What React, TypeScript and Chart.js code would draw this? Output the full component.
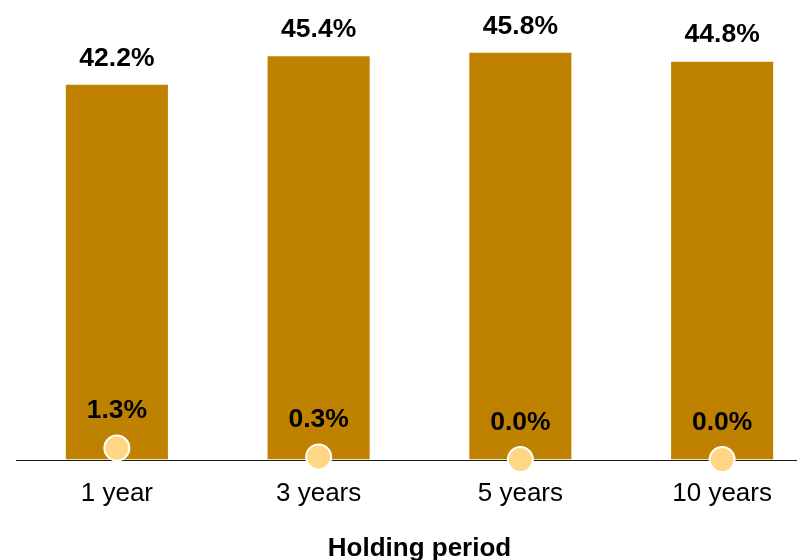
import React, { useEffect, useRef } from "react";
import { Chart, registerables } from "chart.js";

Chart.register(...registerables);

const categories = ["1 year", "3 years", "5 years", "10 years"];
const barValues = [42.2, 45.4, 45.8, 44.8];
const pointValues = [1.3, 0.3, 0.0, 0.0];
const axisTitle = "Holding period";

const BAR_COLOR = "#BF8200";
const POINT_COLOR = "#FFD684";
const FONT = "'Liberation Sans', Arial, sans-serif";

const labelPlugin = {
  id: "valueLabels",
  beforeDatasetDraw(chart: any, args: any) {
    if (args.index !== 1) return;
    const ctx = chart.ctx;
    const y0 = chart.scales.y.getPixelForValue(0);
    ctx.save();
    ctx.strokeStyle = "#1a1a1a";
    ctx.lineWidth = 1;
    ctx.beginPath();
    ctx.moveTo(chart.chartArea.left, Math.round(y0) + 0.5);
    ctx.lineTo(chart.width, Math.round(y0) + 0.5);
    ctx.stroke();
    ctx.restore();
  },
  afterDatasetsDraw(chart: any) {
    const ctx = chart.ctx;
    ctx.save();
    ctx.font = `bold 26.5px ${FONT}`;
    ctx.fillStyle = "#000";
    ctx.textAlign = "center";
    ctx.textBaseline = "middle";
    const barMeta = chart.getDatasetMeta(0);
    barMeta.data.forEach((el: any, i: number) => {
      ctx.fillText(barValues[i].toFixed(1) + "%", el.x, el.y - 26.5);
    });
    const ptMeta = chart.getDatasetMeta(1);
    ptMeta.data.forEach((el: any, i: number) => {
      ctx.fillText(pointValues[i].toFixed(1) + "%", el.x, el.y - 37);
    });
    ctx.restore();
  },
};

export default function App() {
  const ref = useRef<HTMLCanvasElement>(null);
  useEffect(() => {
    const chart = new Chart(ref.current!, {
      type: "bar",
      data: {
        labels: categories,
        datasets: [
          {
            type: "bar",
            data: barValues,
            backgroundColor: BAR_COLOR,
            barPercentage: 0.506,
            categoryPercentage: 1,
            order: 2,
          } as any,
          {
            type: "line",
            data: pointValues,
            showLine: false,
            pointRadius: 12.5,
            pointHoverRadius: 12.5,
            pointBackgroundColor: POINT_COLOR,
            pointBorderColor: "#ffffff",
            pointBorderWidth: 2,
            clip: false,
            order: 1,
          } as any,
        ],
      },
      options: {
        animation: false,
        responsive: false,
        maintainAspectRatio: false,
        events: [],
        layout: { autoPadding: false, padding: { left: 8, right: 15, top: 7.5, bottom: 4 } },
        plugins: {
          legend: { display: false },
          tooltip: { enabled: false },
        },
        scales: {
          x: {
            grid: { display: false, drawTicks: false },
            border: { display: false },
            ticks: {
              padding: 19,
              color: "#000",
              font: { family: FONT, size: 26 },
            },
            title: {
              display: true,
              text: axisTitle,
              color: "#000",
              font: { family: FONT, size: 26, weight: "bold" },
              padding: { top: 4, bottom: 0 },
            },
          },
          y: {
            display: false,
            min: 0,
            max: 50,
          },
        },
      },
      plugins: [labelPlugin],
    });
    return () => chart.destroy();
  }, []);
  return (
    <div style={{ width: 797, height: 552, overflow: "hidden" }}>
      <canvas ref={ref} width={830} height={560} style={{ display: "block" }} />
    </div>
  );
}
